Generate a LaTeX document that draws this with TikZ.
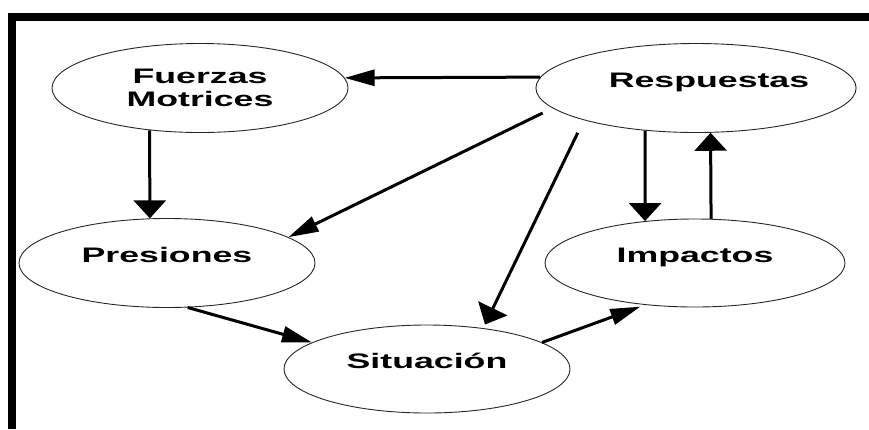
\documentclass[tikz,border=0pt]{standalone}
\usepackage{fontspec}
\newfontfamily\etiq[FakeStretch=1.7]{Liberation Sans}
\usetikzlibrary{shapes.geometric, arrows.meta}
\tikzset{
  estado/.style={ellipse, draw=black!85, line width=0.9pt, inner sep=0pt,
    minimum width=296pt, minimum height=89pt,
    font=\etiq\bfseries\fontsize{21}{23}\selectfont, align=center},
  unalinea/.style={text height=15pt, text depth=16pt},
  flechav/.style={line width=3pt, -{Triangle[length=18pt, width=32pt]}},
  flechah/.style={line width=3pt, -{Triangle[length=30pt, width=16pt]}},
}

\begin{document}
\begin{tikzpicture}[x=1pt, y=-1pt]
      \useasboundingbox (0,0) rectangle (869,429);
      % frame
      \fill (8,13) rectangle (869,21);
      \fill (8,13) rectangle (16,429);
      % states
      \node[estado] (fm) at (200,88) {Fuerzas\\Motrices};
      \node[estado, unalinea, minimum width=298pt] (re) at (696,88) {\hspace*{26pt}Respuestas};
      \node[estado, unalinea] (pr) at (167,263) {Presiones};
      \node[estado, unalinea, minimum width=300pt, minimum height=88pt] (im) at (695,263) {Impactos};
      \node[estado, unalinea, minimum width=286pt, minimum height=88pt] (si) at (427,369) {Situación};
      % horizontal lines
      \draw[flechah] (re.176) -- (fm.4);
      % vertical lines
      \draw[flechav] (fm.220) -- (pr.111);
      \draw[flechav] (re.220) -- (im.140);
      \draw[flechav] (im.70) -- (re.288);
      % diagonal lines
      \draw[flechah, shorten <=11pt] (re.188) -- (pr.12);
      \draw[flechav, shorten <=14pt, shorten >=4pt] (re.196) -- (si.36);
      \draw[flechah] (pr.295) -- (si.167);
      \draw[flechah, shorten >=5pt] (si.13) -- (im.220);
    \end{tikzpicture}
\end{document}
